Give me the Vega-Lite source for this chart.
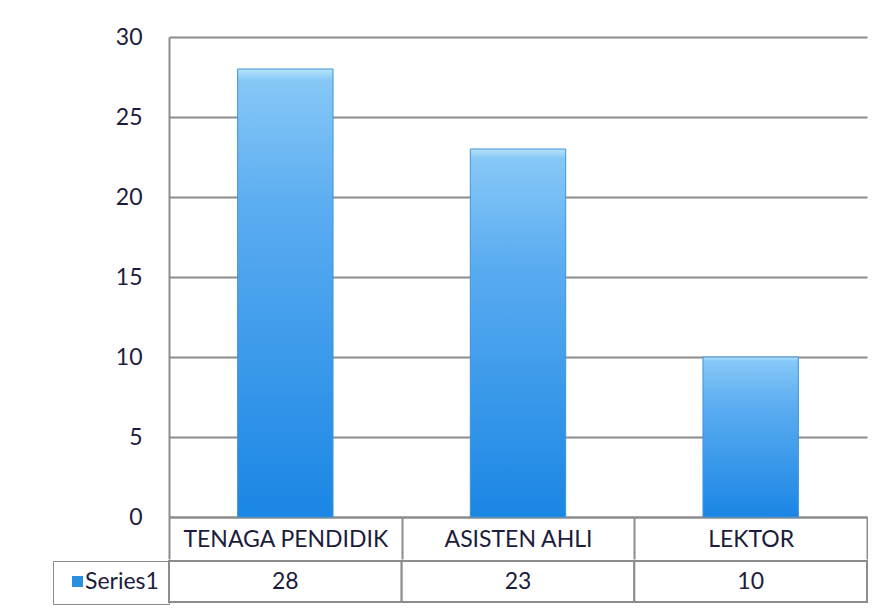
{
  "$schema": "https://vega.github.io/schema/vega-lite/v6.json",
  "background": "white",
  "padding": {"left": 52, "top": 26, "right": 0, "bottom": 0},
  "config": {
    "view": {"stroke": null},
    "font": "Lato",
    "axis": {"labelFont": "Lato", "labelFontSize": 23, "labelColor": "#1c1c3c", "labelLimit": 400}
  },
  "spacing": 0,
  "resolve": {"legend": {"color": "independent"}, "scale": {"color": "independent"}},
  "datasets": {
    "staff": [
      {"category": "TENAGA PENDIDIK", "series": "Series1", "value": 28},
      {"category": "ASISTEN AHLI", "series": "Series1", "value": 23},
      {"category": "LEKTOR", "series": "Series1", "value": 10}
    ]
  },
  "vconcat": [
    {
      "width": 698,
      "height": 480,
      "data": {"name": "staff"},
      "mark": {
        "type": "bar",
        "width": {"band": 0.41},
        "stroke": "#3f93dc",
        "strokeWidth": 1,
        "color": {
          "gradient": "linear",
          "x1": 0, "y1": 0, "x2": 0, "y2": 1,
          "stops": [
            {"offset": 0, "color": "#b8e4fb"},
            {"offset": 0.025, "color": "#86c8f7"},
            {"offset": 0.3, "color": "#5cadf1"},
            {"offset": 1, "color": "#1a86e4"}
          ]
        }
      },
      "encoding": {
        "x": {
          "field": "category",
          "type": "nominal",
          "sort": null,
          "scale": {"paddingInner": 0, "paddingOuter": 0},
          "axis": {
            "title": null,
            "labelAngle": 0,
            "tickBand": "extent",
            "tickSize": 42,
            "tickWidth": 2,
            "tickColor": "#8c8c8c",
            "domainColor": "#8c8c8c",
            "domainWidth": 2,
            "labelPadding": -20,
            "labelBaseline": "middle"
          }
        },
        "y": {
          "field": "value",
          "type": "quantitative",
          "scale": {"domain": [0, 30]},
          "axis": {
            "title": null,
            "values": [0, 5, 10, 15, 20, 25, 30],
            "ticks": false,
            "labelPadding": 27,
            "gridColor": "#8c8c8c",
            "gridWidth": 2,
            "gridOpacity": 1,
            "domainColor": "#8c8c8c",
            "domainWidth": 2
          }
        }
      }
    },
    {
      "width": 698,
      "height": 41,
      "data": {"name": "staff"},
      "layer": [
        {
          "mark": {"type": "rect", "fill": "white", "stroke": "#8c8c8c", "strokeWidth": 2},
          "encoding": {
            "x": {"field": "category", "type": "nominal", "sort": null, "scale": {"paddingInner": 0, "paddingOuter": 0}, "axis": null},
            "y": {"field": "series", "type": "nominal", "scale": {"paddingInner": 0, "paddingOuter": 0}, "axis": null}
          }
        },
        {
          "mark": {"type": "text", "fontSize": 23, "font": "Lato", "color": "#1c1c3c", "baseline": "middle"},
          "encoding": {
            "x": {"field": "category", "type": "nominal", "sort": null},
            "y": {"field": "series", "type": "nominal"},
            "text": {"field": "value", "type": "quantitative"}
          }
        },
        {
          "mark": {"type": "point", "shape": "square", "filled": true, "opacity": 0},
          "encoding": {
            "x": {"field": "category", "type": "nominal", "sort": null},
            "y": {"field": "series", "type": "nominal"},
            "color": {
              "field": "series",
              "type": "nominal",
              "scale": {"range": ["#2b8fdf"]},
              "legend": {
                "title": null,
                "orient": "left",
                "offset": 0,
                "padding": 10,
                "strokeColor": "#8c8c8c",
                "symbolType": "square",
                "symbolSize": 121,
                "symbolOpacity": 1,
                "symbolFillColor": "#2b8fdf",
                "symbolOffset": 3,
                "labelOffset": -4,
                "labelFont": "Lato",
                "labelFontSize": 23,
                "labelColor": "#1c1c3c",
                "clipHeight": 21
              }
            }
          }
        }
      ]
    }
  ]
}
